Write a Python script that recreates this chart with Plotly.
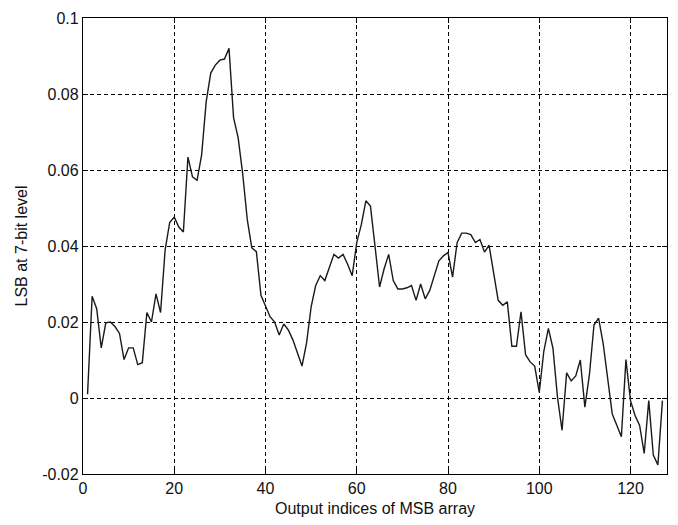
import plotly.graph_objects as go

# Output index of the MSB array (1..127)
indices = list(range(1, 128))

# LSB error at the 7-bit level for each output index
lsb_values = [
    0.0010, 0.0268, 0.0235, 0.0132, 0.0198, 0.0200, 0.0188, 0.0170, 0.0101, 0.0132,
    0.0132, 0.0088, 0.0093, 0.0225, 0.0200, 0.0274, 0.0225, 0.0390, 0.0462, 0.0476,
    0.0450, 0.0437, 0.0634, 0.0582, 0.0573, 0.0640, 0.0780, 0.0855, 0.0876, 0.0889,
    0.0892, 0.0920, 0.0738, 0.0685, 0.0590, 0.0470, 0.0395, 0.0385, 0.0270, 0.0240,
    0.0214, 0.0200, 0.0166, 0.0195, 0.0179, 0.0153, 0.0119, 0.0084, 0.0145, 0.0240,
    0.0296, 0.0322, 0.0309, 0.0344, 0.0378, 0.0368, 0.0378, 0.0352, 0.0322, 0.0409,
    0.0456, 0.0519, 0.0505, 0.0400, 0.0292, 0.0340, 0.0378, 0.0309, 0.0287, 0.0287,
    0.0290, 0.0296, 0.0257, 0.0300, 0.0261, 0.0283, 0.0325, 0.0361, 0.0374, 0.0383,
    0.0318, 0.0409, 0.0434, 0.0434, 0.0430, 0.0409, 0.0417, 0.0384, 0.0402, 0.0326,
    0.0257, 0.0244, 0.0253, 0.0136, 0.0136, 0.0227, 0.0114, 0.0095, 0.0084, 0.0015,
    0.0123, 0.0183, 0.0131, 0.0002, -0.0085, 0.0066, 0.0045, 0.0058, 0.0100, -0.0024,
    0.0062, 0.0192, 0.0210, 0.0144, 0.0045, -0.0042, -0.0072, -0.0102, 0.0101, -0.0007,
    -0.0046, -0.0072, -0.0146, -0.0007, -0.0150, -0.0176, -0.0007,
]

x_tick_vals = [0, 20, 40, 60, 80, 100, 120]
x_tick_text = ["0", "20", "40", "60", "80", "100", "120"]
y_tick_vals = [-0.02, 0, 0.02, 0.04, 0.06, 0.08, 0.1]
y_tick_text = ["-0.02", "0", "0.02", "0.04", "0.06", "0.08", "0.1"]

FONT = "Liberation Sans, Arial, sans-serif"
TEXT_COLOR = "#111"

fig = go.Figure(
    go.Scatter(
        x=indices,
        y=lsb_values,
        mode="lines",
        line=dict(color="#1a1a1a", width=1.4),
        showlegend=False,
    )
)

axis_common = dict(
    showline=True,
    linecolor="black",
    linewidth=1.3,
    mirror="ticks",
    ticks="inside",
    ticklen=5,
    tickcolor="black",
    showgrid=True,
    gridcolor="black",
    gridwidth=1,
    griddash="4px,3px",
    zeroline=False,
    tickfont=dict(family=FONT, size=16, color=TEXT_COLOR),
)

fig.update_xaxes(
    range=[0, 128],
    tickvals=x_tick_vals,
    ticktext=x_tick_text,
    title=dict(text="Output indices of MSB array",
               font=dict(family=FONT, size=16, color=TEXT_COLOR), standoff=6),
    **axis_common,
)
fig.update_yaxes(
    range=[-0.02, 0.1],
    tickvals=y_tick_vals,
    ticktext=y_tick_text,
    title=dict(text="LSB at 7-bit level",
               font=dict(family=FONT, size=16, color=TEXT_COLOR), standoff=10),
    **axis_common,
)

fig.update_layout(
    width=678,
    height=525,
    margin=dict(l=83, r=10, t=12, b=51),
    paper_bgcolor="white",
    plot_bgcolor="white",
)

fig.write_html("out.html")
